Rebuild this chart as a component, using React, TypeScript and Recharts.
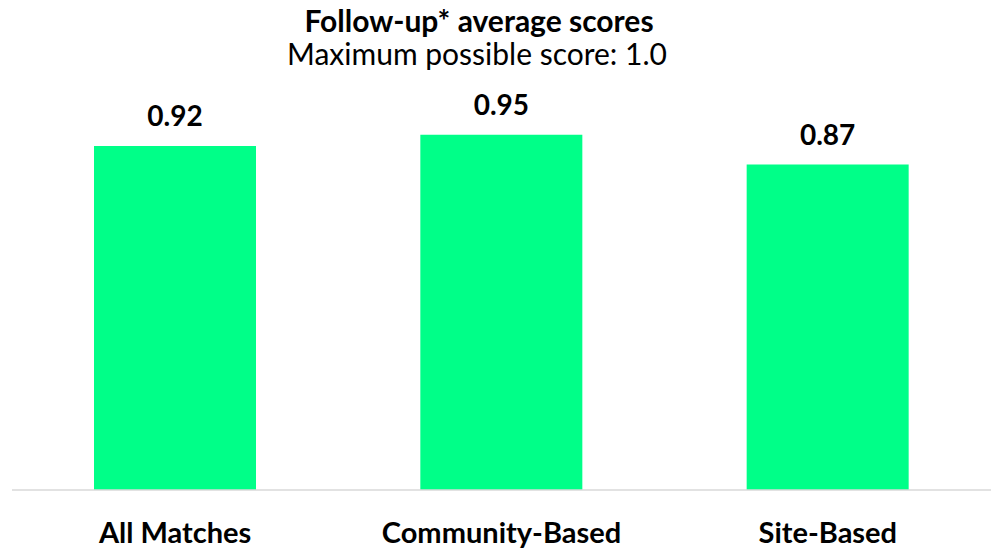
import React from 'react';
import { BarChart, Bar, XAxis, YAxis, LabelList } from 'recharts';

// Follow-up average scores, by match type
const categories = ['All Matches', 'Community-Based', 'Site-Based'];
const scores = [0.92, 0.95, 0.87];

const data = categories.map((name, i) => ({ name, score: scores[i] }));

const FONT = 'Lato, "Noto Sans", sans-serif';

const App: React.FC = () => {
  return (
    <div style={{ position: 'absolute', left: 0, top: 0, width: 991, height: 549, background: '#fff', fontFamily: FONT }}>
      <BarChart
        width={991}
        height={549}
        data={data}
        margin={{ top: 116, right: 0, bottom: 0, left: 12 }}
        barSize={162}
      >
        <XAxis
          dataKey="name"
          height={59}
          tickLine={false}
          axisLine={{ stroke: '#d9d9d9', strokeWidth: 1.5 }}
          tickMargin={26}
          tick={{ fontSize: 29, fontWeight: 700, fill: '#000', fontFamily: FONT }}
        />
        <YAxis hide domain={[0, 1]} />
        <Bar dataKey="score" fill="#00FF88" isAnimationActive={false}>
          <LabelList
            dataKey="score"
            position="top"
            offset={20}
            formatter={(v: number) => v.toFixed(2)}
            style={{ fontSize: 28, fontWeight: 700, fill: '#000', fontFamily: FONT }}
          />
        </Bar>
      </BarChart>
      {/* title block */}
      <svg width={991} height={80} style={{ position: 'absolute', left: 0, top: 0 }}>
        <text x={479} y={32} textAnchor="middle" fontSize={30} fontWeight={700} fill="#000" fontFamily={FONT}>
          Follow-up* average scores
        </text>
        <text x={477} y={65} textAnchor="middle" fontSize={30} fill="#000" fontFamily={FONT}>
          Maximum possible score: 1.0
        </text>
      </svg>
    </div>
  );
};

export default App;
